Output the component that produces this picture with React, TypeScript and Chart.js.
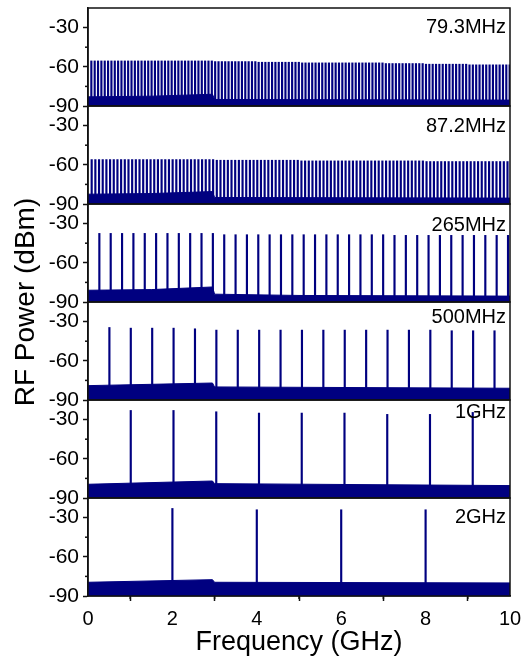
import { useEffect, useRef } from 'react';
import { Chart, registerables } from 'chart.js';

Chart.register(...registerables);

// ---------------- data ----------------
const PANEL_LABELS = ['79.3MHz', '87.2MHz', '265MHz', '500MHz', '1GHz', '2GHz'];
// comb line spacing (GHz)
const REP_RATES_GHZ = [0.0793, 0.0872, 0.269, 0.507, 1.013, 2.0];

// dense combs: peak level for the lines inside each 1-GHz band (0-1, 1-2, ... 9-10 GHz)
const LEVELS_79_BY_GHZ = [-55.5, -55.5, -55.5, -56, -56.5, -57, -57, -57.5, -58, -58.5];
const LEVELS_87_BY_GHZ = [-56, -56, -56, -56.5, -56.5, -57, -57, -57, -57.5, -57.5];
const LEVELS_265_BY_GHZ = [-37.5, -37.5, -37.5, -38.5, -38.5, -38.5, -38.5, -39, -39, -39];
// sparse combs: one level per line
const PEAKS_500 = [-34.5, -35, -35, -35, -35.5, -36.5, -36.5, -36.5, -36.5, -36.5, -36.5, -36.5, -36.5, -36.5, -36.5, -36.5, -37, -37, -37];
const PEAKS_1G = [-23, -23, -24, -25, -25, -25, -26, -26, -24.5];
const PEAKS_2G = [-23, -24, -24, -24];

// noise floor breakpoints [GHz, dBm]
const FLOOR_79 = [[0, -83], [1.5, -82.5], [2.95, -81], [3.0, -85], [10, -85.5]];
const FLOOR_87 = [[0, -82.5], [1.5, -82], [2.95, -80.5], [3.0, -85], [10, -85.5]];
const FLOOR_265 = [[0, -81], [1.5, -80.5], [2.95, -78.5], [3.0, -84], [5, -85], [10, -85.5]];
const FLOOR_500 = [[0, -79], [1.5, -78], [2.95, -77], [3.0, -80], [10, -81]];
const FLOOR_1G = [[0, -79.5], [2.95, -77], [3.0, -79], [10, -80.5]];
const FLOOR_2G = [[0, -79.5], [2.95, -77.5], [3.0, -79.5], [10, -80]];

const X_TICKS = [0, 2, 4, 6, 8, 10];
const X_MINOR_TICKS = [1, 3, 5, 7, 9];
const Y_TICKS = [-90, -60, -30];
const Y_MINOR_TICKS = [-75, -45];
const Y_MIN = -90;
const Y_MAX = -15;
const X_MIN = 0;
const X_MAX = 10;

// ---------------- styling ----------------
const NAVY = '#000080';
const AXIS = '#111111';
const FONT = '"Liberation Sans", Arial, Helvetica, sans-serif';
const LABEL_OFFSETS = [25, 26, 27, 21, 18, 25];

function denseComb(rate: number, levels: number[]) {
  const pts: { x: number; y: number[] }[] = [];
  for (let n = 1; n * rate < X_MAX; n++) {
    const f = n * rate;
    pts.push({ x: f, y: [Y_MIN, levels[Math.floor(f)]] });
  }
  return pts;
}
function sparseComb(rate: number, levels: number[]) {
  return levels.map((lv, i) => ({ x: (i + 1) * rate, y: [Y_MIN, lv] }));
}

const PEAK_SETS = [
  denseComb(REP_RATES_GHZ[0], LEVELS_79_BY_GHZ),
  denseComb(REP_RATES_GHZ[1], LEVELS_87_BY_GHZ),
  denseComb(REP_RATES_GHZ[2], LEVELS_265_BY_GHZ),
  sparseComb(REP_RATES_GHZ[3], PEAKS_500),
  sparseComb(REP_RATES_GHZ[4], PEAKS_1G),
  sparseComb(REP_RATES_GHZ[5], PEAKS_2G),
];
const FLOORS = [FLOOR_79, FLOOR_87, FLOOR_265, FLOOR_500, FLOOR_1G, FLOOR_2G];
const AXIS_IDS = PANEL_LABELS.map((_, i) => 'y' + i);

const panelPlugin = {
  id: 'panelDecor',
  afterDraw(chart: any) {
    const ctx = chart.ctx as CanvasRenderingContext2D;
    const { left, right, top, bottom } = chart.chartArea;
    ctx.save();
    ctx.strokeStyle = AXIS;
    ctx.lineWidth = 1.5;
    AXIS_IDS.forEach((id, i) => {
      const s = chart.scales[id];
      ctx.strokeRect(left, s.top, right - left, s.bottom - s.top);
      Y_MINOR_TICKS.forEach((v) => {
        const y = s.getPixelForValue(v);
        ctx.beginPath();
        ctx.moveTo(left - 3, y);
        ctx.lineTo(left, y);
        ctx.stroke();
      });
      ctx.fillStyle = '#000';
      ctx.font = `20px ${FONT}`;
      ctx.textAlign = 'right';
      ctx.textBaseline = 'alphabetic';
      ctx.fillText(PANEL_LABELS[i], right - 4, s.top + LABEL_OFFSETS[i]);
    });
    const xs = chart.scales.x;
    X_MINOR_TICKS.forEach((v) => {
      const x = xs.getPixelForValue(v);
      ctx.beginPath();
      ctx.moveTo(x, bottom);
      ctx.lineTo(x, bottom + 3);
      ctx.stroke();
    });
    ctx.translate(26, (top + bottom) / 2);
    ctx.rotate(-Math.PI / 2);
    ctx.fillStyle = '#000';
    ctx.font = `28px ${FONT}`;
    ctx.textAlign = 'center';
    ctx.textBaseline = 'middle';
    ctx.fillText('RF Power (dBm)', 0, 0);
    ctx.restore();
  },
};

export default function App() {
  const ref = useRef<HTMLCanvasElement | null>(null);
  useEffect(() => {
    if (!ref.current) return;
    const datasets: any[] = [];
    AXIS_IDS.forEach((id, i) => {
      datasets.push({
        type: 'bar',
        data: PEAK_SETS[i],
        yAxisID: id,
        xAxisID: 'x',
        backgroundColor: NAVY,
        borderWidth: 0,
        barThickness: 1.5,
        grouped: false,
      });
      datasets.push({
        type: 'line',
        data: FLOORS[i].map(([x, y]) => ({ x, y })),
        yAxisID: id,
        xAxisID: 'x',
        borderColor: NAVY,
        backgroundColor: NAVY,
        borderWidth: 1,
        pointRadius: 0,
        tension: 0,
        fill: { value: Y_MIN },
      });
    });
    const scales: any = {
      x: {
        type: 'linear',
        position: 'bottom',
        min: X_MIN,
        max: X_MAX,
        offset: false,
        afterBuildTicks: (s: any) => {
          s.ticks = X_TICKS.map((v) => ({ value: v }));
        },
        afterFit: (s: any) => {
          s.height = 65;
          s.paddingLeft = 0;
          s.paddingRight = 0;
        },
        ticks: { color: '#000', font: { family: FONT, size: 20 }, padding: 6, maxRotation: 0, autoSkip: false },
        grid: { drawOnChartArea: false, drawTicks: true, tickLength: 5, tickWidth: 1.5, tickColor: AXIS },
        border: { display: true, color: AXIS, width: 1.5 },
        title: {
          display: true,
          text: 'Frequency (GHz)',
          color: '#000',
          font: { family: FONT, size: 27 },
          padding: { top: 0, bottom: 2 },
        },
      },
    };
    // stacked axes are laid out bottom-up, so insert the bottom panel first
    [...AXIS_IDS].reverse().forEach((id) => {
      scales[id] = {
        type: 'linear',
        axis: 'y',
        position: 'left',
        stack: 'panels',
        stackWeight: 1,
        offset: false,
        min: Y_MIN,
        max: Y_MAX,
        afterBuildTicks: (s: any) => {
          s.ticks = Y_TICKS.map((v) => ({ value: v }));
        },
        afterFit: (s: any) => {
          s.width = 88;
          s.paddingTop = 0;
          s.paddingBottom = 0;
        },
        ticks: { color: '#000', font: { family: FONT, size: 21 }, padding: 4, autoSkip: false },
        grid: { drawOnChartArea: false, drawTicks: true, tickLength: 5, tickWidth: 1.5, tickColor: AXIS },
        border: { display: true, color: AXIS, width: 1.5 },
      };
    });
    const chart = new Chart(ref.current, {
      type: 'line',
      data: { datasets },
      options: {
        animation: false,
        responsive: false,
        events: [],
        layout: { padding: { left: 0, right: 19, top: 8, bottom: 0 } },
        plugins: { legend: { display: false }, tooltip: { enabled: false } },
        scales,
      },
      plugins: [panelPlugin],
    } as any);
    return () => chart.destroy();
  }, []);
  return (
    <div style={{ position: 'fixed', left: 0, top: 0, width: 529, height: 661, background: '#fff' }}>
      <canvas ref={ref} width={529} height={661} style={{ display: 'block' }} />
    </div>
  );
}
